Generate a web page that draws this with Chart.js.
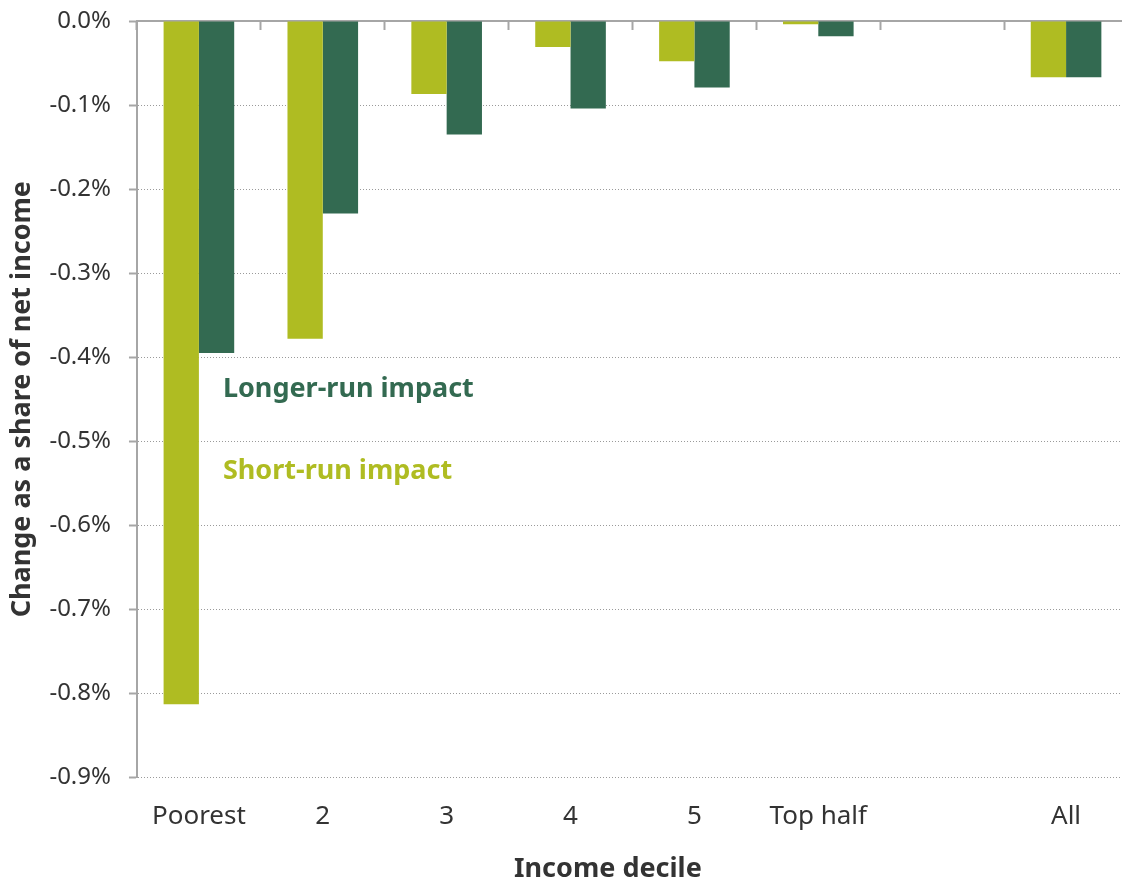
<!DOCTYPE html>
<html>
<head>
<meta charset="utf-8">
<script src="https://cdn.jsdelivr.net/npm/chart.js@4/dist/chart.umd.min.js"></script>
<style>
  html, body { margin: 0; padding: 0; background: #fff; overflow: hidden; }
  #wrap { width: 1128px; height: 882px; }
</style>
</head>
<body>
<div id="wrap"><canvas id="myChart" width="1128" height="882"></canvas></div>
<script>
// Data (change as % of net income)
const categories = ['Poorest', '2', '3', '4', '5', 'Top half', '', 'All'];
const shortRun = [-0.813, -0.378, -0.087, -0.031, -0.048, -0.004, null, -0.067];
const longerRun = [-0.395, -0.229, -0.135, -0.104, -0.079, -0.018, null, -0.067];
const yTicks = [0, -0.1, -0.2, -0.3, -0.4, -0.5, -0.6, -0.7, -0.8, -0.9];

const lightGreen = '#afbc22';
const darkGreen = '#336a51';
const axisGrey = '#a6a6a6';
const textColor = '#333333';
const fontFamily = '"Noto Sans", "Open Sans", sans-serif';

// Series labels written inside the plot
const seriesLabels = {
    id: 'seriesLabels',
    afterDatasetsDraw(chart) {
        const ctx = chart.ctx;
        const x = chart.scales.x.getPixelForValue(0) + 24;
        ctx.save();
        ctx.font = 'bold 27px ' + fontFamily;
        ctx.textBaseline = 'middle';
        ctx.textAlign = 'left';
        ctx.fillStyle = darkGreen;
        ctx.fillText('Longer-run impact', x, chart.scales.y.getPixelForValue(-0.438));
        ctx.fillStyle = lightGreen;
        ctx.fillText('Short-run impact', x, chart.scales.y.getPixelForValue(-0.536));
        ctx.restore();
    }
};

let ctx = document.getElementById('myChart').getContext('2d');
let chart = new Chart(ctx, {
    type: 'bar',
    data: {
        labels: categories,
        datasets: [{
            label: 'Short-run impact',
            data: shortRun,
            backgroundColor: lightGreen,
            borderWidth: 0
        }, {
            label: 'Longer-run impact',
            data: longerRun,
            backgroundColor: darkGreen,
            borderWidth: 0
        }]
    },
    options: {
        responsive: false,
        animation: false,
        categoryPercentage: 0.57,
        barPercentage: 1.0,
        layout: {
            padding: { left: 4, right: 0, top: 21, bottom: 0 }
        },
        plugins: {
            legend: { display: false },
            tooltip: { enabled: false }
        },
        scales: {
            x: {
                type: 'category',
                position: 'bottom',
                grid: { display: false, drawTicks: false },
                border: { display: false },
                ticks: {
                    color: textColor,
                    font: { family: fontFamily, size: 26 },
                    padding: 24,
                    maxRotation: 0,
                    autoSkip: false
                },
                title: {
                    display: true,
                    // trailing nbsp nudge the title a bit left of the axis centre
                    text: 'Income decile' + '\u00a0'.repeat(7),
                    color: textColor,
                    font: { family: fontFamily, size: 27, weight: 'bold' },
                    padding: { top: -3, bottom: -4 }
                }
            },
            x2: {
                type: 'category',
                labels: categories,
                position: { y: 0 },
                offset: true,
                grid: {
                    offset: true,
                    drawOnChartArea: false,
                    drawTicks: true,
                    tickLength: 8,
                    tickColor: axisGrey,
                    tickWidth: 2
                },
                border: { display: true, color: axisGrey, width: 2 },
                ticks: { display: false }
            },
            y: {
                min: -0.9,
                max: 0,
                afterBuildTicks: axis => {
                    axis.ticks = yTicks.map(v => ({ value: v }));
                },
                afterFit: axis => {
                    // let the layout padding decide the top edge
                    axis.paddingTop = 0;
                    axis.paddingBottom = 0;
                },
                ticks: {
                    color: textColor,
                    font: { family: fontFamily, size: 24 },
                    padding: 18,
                    callback: v => (Math.abs(v) < 1e-9 ? 0 : v).toFixed(1) + '%'
                },
                grid: {
                    color: ctx => ctx.tick && ctx.tick.value === 0 ? 'rgba(0,0,0,0)' : '#9a9a9a',
                    lineWidth: 1,
                    tickColor: axisGrey,
                    tickLength: 8,
                    tickWidth: 2,
                    tickBorderDash: []
                },
                border: {
                    display: true,
                    color: axisGrey,
                    width: 2,
                    dash: ctx => ctx.tick ? [1, 2] : []
                },
                title: {
                    display: true,
                    text: 'Change as a share of net income',
                    color: textColor,
                    font: { family: fontFamily, size: 27, weight: 'bold' },
                    padding: { top: 2, bottom: -7 }
                }
            }
        }
    },
    plugins: [seriesLabels]
});
</script>
</body>
</html>
